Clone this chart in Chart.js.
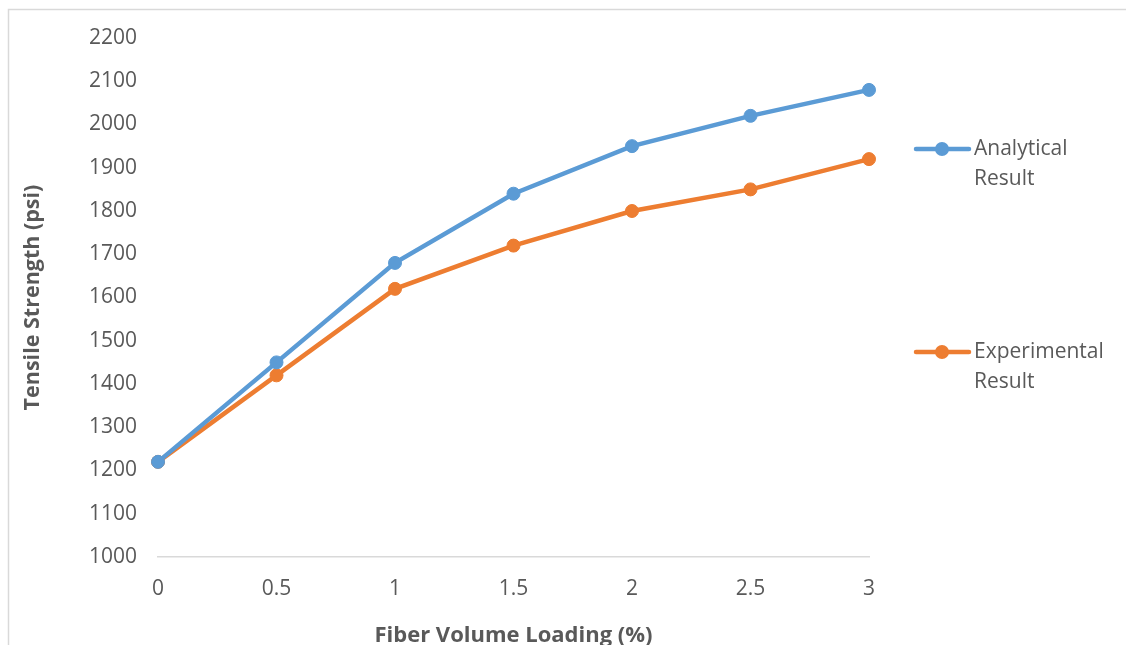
<!DOCTYPE html>
<html>
<head>
<meta charset="utf-8">
<title>Tensile Strength vs Fiber Volume Loading</title>
<script src="https://cdn.jsdelivr.net/npm/chart.js@4/dist/chart.umd.min.js"></script>
<style>
    html, body { margin: 0; padding: 0; background: #fff; }
    #wrap { width: 1126px; height: 645px; }
</style>
</head>
<body>
<div id="wrap"><canvas id="strengthChart" width="1126" height="645"></canvas></div>
<script>
// Fiber volume loading (%) on the x axis
const loadings = ['0', '0.5', '1', '1.5', '2', '2.5', '3'];

// Tensile strength (psi)
const analytical = [1220, 1450, 1680, 1840, 1950, 2020, 2080];
const experimental = [1220, 1420, 1620, 1720, 1800, 1850, 1920];

const seriesNames = ['Analytical Result', 'Experimental Result'];

const FONT = "'Open Sans', 'Liberation Sans', sans-serif";
const TEXT_COLOR = '#595959';
const LINE_GREY = '#d9d9d9';

// Light grey frame around the chart
const framePlugin = {
    id: 'frame',
    beforeDraw(chart) {
        const ctx = chart.ctx;
        ctx.save();
        ctx.strokeStyle = LINE_GREY;
        ctx.lineWidth = 1.5;
        ctx.strokeRect(8.5, 9.5, chart.width + 20, chart.height + 20);
        ctx.restore();
    }
};

// Legend on the right, each name wrapped onto two lines
const sideLegend = {
    id: 'sideLegend',
    afterDraw(chart) {
        const ctx = chart.ctx;
        const rows = [149, 352];
        ctx.save();
        chart.data.datasets.forEach((ds, i) => {
            const y = rows[i];
            ctx.strokeStyle = ds.borderColor;
            ctx.lineWidth = 4.5;
            ctx.lineCap = 'round';
            ctx.beginPath();
            ctx.moveTo(916, y);
            ctx.lineTo(969, y);
            ctx.stroke();
            ctx.fillStyle = ds.borderColor;
            ctx.beginPath();
            ctx.arc(942, y, 7, 0, Math.PI * 2);
            ctx.fill();

            ctx.fillStyle = TEXT_COLOR;
            ctx.font = '21px ' + FONT;
            ctx.textBaseline = 'middle';
            ctx.textAlign = 'left';
            ds.label.split(' ').forEach((word, j) => {
                ctx.fillText(word, 974, y + j * 30);
            });
        });
        ctx.restore();
    }
};

new Chart(document.getElementById('strengthChart'), {
    type: 'line',
    data: {
        labels: loadings,
        datasets: [{
            label: seriesNames[0],
            data: analytical,
            borderColor: '#5b9bd5',
            backgroundColor: '#5b9bd5',
            borderWidth: 4.5,
            pointRadius: 6.5,
            pointBorderWidth: 1,
            tension: 0
        }, {
            label: seriesNames[1],
            data: experimental,
            borderColor: '#ed7d31',
            backgroundColor: '#ed7d31',
            borderWidth: 4.5,
            pointRadius: 6.5,
            pointBorderWidth: 1,
            tension: 0
        }]
    },
    options: {
        responsive: false,
        animation: false,
        devicePixelRatio: 1,
        layout: {
            padding: { top: 38, right: 257, bottom: 0, left: 0 }
        },
        plugins: {
            legend: { display: false },
            tooltip: { enabled: false }
        },
        scales: {
            x: {
                offset: false,
                grid: { display: false, drawTicks: false },
                border: { display: true, color: LINE_GREY, width: 1.5 },
                ticks: {
                    color: TEXT_COLOR,
                    font: { family: FONT, size: 21 },
                    padding: 19,
                    maxRotation: 0
                },
                title: {
                    display: true,
                    text: 'Fiber Volume Loading (%)',
                    color: TEXT_COLOR,
                    font: { family: FONT, size: 22, weight: 'bold' },
                    padding: { top: 0, bottom: -4 }
                },
                afterFit(scale) { scale.height = 88; }
            },
            y: {
                min: 1000,
                max: 2200,
                grid: { display: false, drawTicks: false },
                border: { display: false },
                ticks: {
                    stepSize: 100,
                    color: TEXT_COLOR,
                    font: { family: FONT, size: 21 },
                    padding: 21,
                    callback: (value) => String(value)
                },
                title: {
                    display: true,
                    text: 'Tensile Strength (psi)',
                    color: TEXT_COLOR,
                    font: { family: FONT, size: 21.5, weight: 'bold' },
                    padding: { top: 20, bottom: 0 }
                },
                afterFit(scale) { scale.width = 158; }
            }
        }
    },
    plugins: [framePlugin, sideLegend]
});
</script>
</body>
</html>
